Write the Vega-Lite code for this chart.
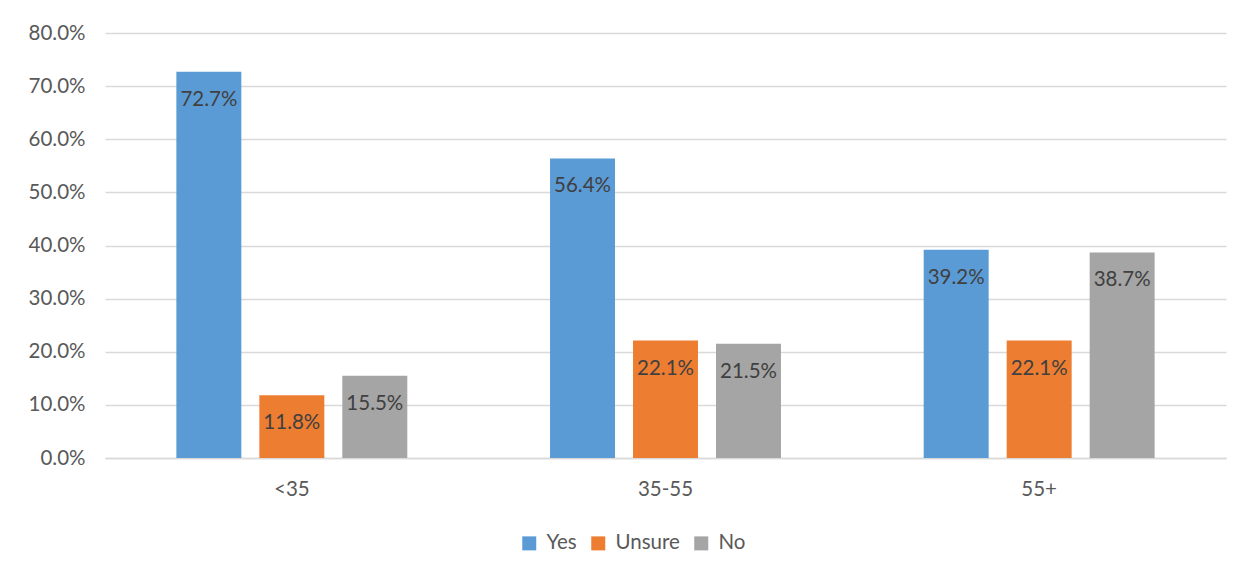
{
  "$schema": "https://vega.github.io/schema/vega-lite/v6.json",
  "width": 1121,
  "height": 425,
  "autosize": {"type": "none"},
  "padding": {"left": 105, "top": 33, "right": 27, "bottom": 119},
  "background": "white",
  "config": {
    "view": {"stroke": null},
    "font": "Lato",
    "axis": {"labelFont": "Lato", "labelFontSize": 20.5, "labelColor": "#595959", "gridColor": "#d9d9d9", "gridWidth": 1.5, "domain": false, "ticks": false, "title": null, "labelOverlap": false},
    "legend": {"labelFont": "Lato", "labelFontSize": 20.5, "labelColor": "#595959"}
  },
  "data": {
    "values": [
      {"age": "<35", "answer": "Yes", "value": 0.727},
      {"age": "<35", "answer": "Unsure", "value": 0.118},
      {"age": "<35", "answer": "No", "value": 0.155},
      {"age": "35-55", "answer": "Yes", "value": 0.564},
      {"age": "35-55", "answer": "Unsure", "value": 0.221},
      {"age": "35-55", "answer": "No", "value": 0.215},
      {"age": "55+", "answer": "Yes", "value": 0.392},
      {"age": "55+", "answer": "Unsure", "value": 0.221},
      {"age": "55+", "answer": "No", "value": 0.387}
    ]
  },
  "encoding": {
    "x": {"field": "age", "type": "nominal", "sort": ["<35", "35-55", "55+"], "scale": {"paddingInner": 0, "paddingOuter": 0}, "axis": {"labelAngle": 0, "labelPadding": 21, "grid": false, "domain": true, "domainColor": "#d9d9d9", "domainWidth": 1.5}},
    "xOffset": {"field": "answer", "type": "nominal", "sort": ["Yes", "Unsure", "No"], "scale": {"paddingInner": 0.217, "paddingOuter": 0.86}},
    "y": {"field": "value", "type": "quantitative", "scale": {"domain": [0, 0.8]}, "axis": {"format": ".1%", "values": [0, 0.1, 0.2, 0.3, 0.4, 0.5, 0.6, 0.7, 0.8], "labelPadding": 20}}
  },
  "layer": [
    {
      "mark": {"type": "bar"},
      "encoding": {
        "color": {"field": "answer", "type": "nominal", "sort": ["Yes", "Unsure", "No"], "scale": {"domain": ["Yes", "Unsure", "No"], "range": ["#5B9BD5", "#ED7D31", "#A5A5A5"]},
          "legend": {"title": null, "orient": "none", "direction": "horizontal", "legendX": 414, "legendY": 500, "symbolType": "square", "symbolSize": 196, "symbolStrokeWidth": 0, "columnPadding": 11, "labelOffset": 7, "padding": 0}}
      }
    },
    {
      "mark": {"type": "text", "baseline": "middle", "dy": 28, "fontSize": 20.5, "color": "#404040", "font": "Lato"},
      "encoding": {"text": {"field": "value", "type": "quantitative", "format": ".1%"}}
    }
  ]
}
